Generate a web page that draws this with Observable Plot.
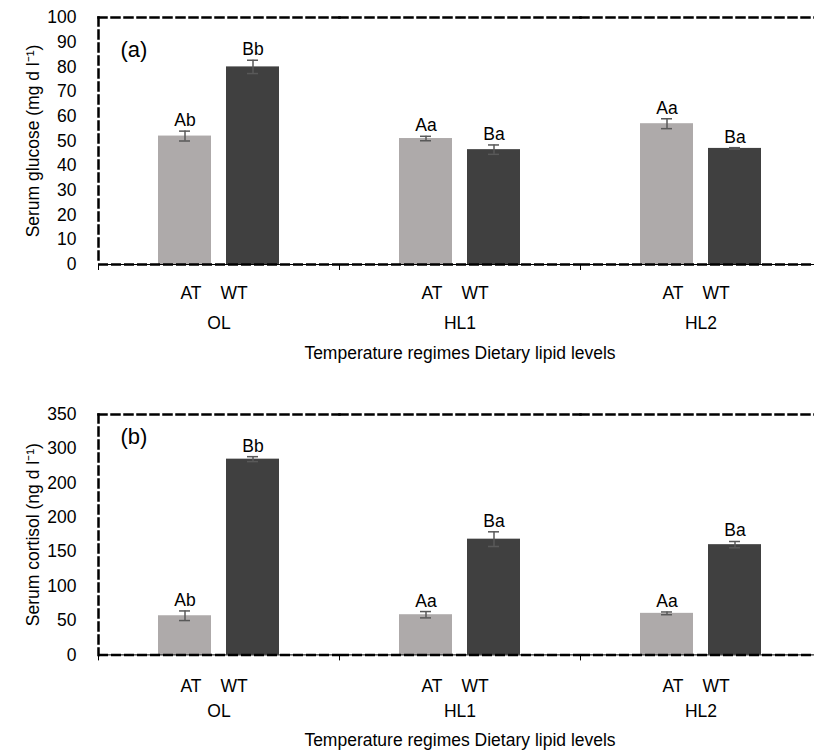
<!DOCTYPE html>
<html><head><meta charset="utf-8">
<script src="https://cdn.jsdelivr.net/npm/d3@7"></script>
<script src="https://cdn.jsdelivr.net/npm/@observablehq/plot@0.6"></script>
<style>
body{margin:0;background:#fff}
#chart svg{display:block}
</style></head><body><div id="chart"></div>
<script>
const groups = ["OL", "HL1", "HL2"];
const temps = ["AT", "WT"];
const glucoseMean = [52, 80, 51, 46.5, 57, 47];
const glucoseErr = [2, 2.7, 0.9, 1.9, 2, 0.3];
const glucoseLetters = ["Ab", "Bb", "Aa", "Ba", "Aa", "Ba"];
const cortisolMean = [57, 285, 58.5, 168.5, 60.5, 160.5];
const cortisolErr = [7, 3.6, 4.6, 10.7, 2, 4.6];
const cortisolLetters = ["Ab", "Bb", "Aa", "Ba", "Aa", "Ba"];
const glucoseTicks = [0, 10, 20, 30, 40, 50, 60, 70, 80, 90, 100];
const glucoseTickLabels = ["0", "10", "20", "30", "40", "50", "60", "70", "80", "90", "100"];
const cortisolTicks = [0, 50, 100, 150, 200, 250, 300, 350];
const cortisolTickLabels = ["0", "50", "100", "150", "200", "200", "300", "350"];
const xTitle = "Temperature regimes Dietary lipid levels";

function makeRows(means, errs, letters) {
  return means.map((v, i) => ({
    group: groups[Math.floor(i / 2)],
    temp: temps[i % 2],
    value: v,
    err: errs[i],
    letter: letters[i]
  }));
}

const fontR = "'Liberation Sans',Arial,sans-serif";
const fxRange = [98, 821];
const halfBand = (fxRange[1] - fxRange[0]) / groups.length / 2;

function chart(o) {
  const rows = o.rows;
  const hi = d => d.value + d.err;
  const lo = d => d.value - d.err;
  return Plot.plot({
    width: 814, height: o.height,
    marginTop: 17, marginLeft: 98, marginRight: 0, marginBottom: o.marginBottom,
    style: {fontFamily: fontR, fontSize: "17.5px", color: "#000", background: "#fff", overflow: "hidden"},
    fx: {domain: groups, range: fxRange, padding: 0},
    x: {domain: temps, paddingInner: 0.217, paddingOuter: 0.855},
    y: {domain: [0, o.yMax]},
    color: {domain: temps, range: ["#aeaaaa", "#404040"]},
    marks: [
      Plot.barY(rows, {fx: "group", x: "temp", y: "value", fill: "temp"}),
      Plot.ruleX(rows, {fx: "group", x: "temp", y1: lo, y2: hi, stroke: "#595959", strokeWidth: 1.5}),
      Plot.tickY(rows, {fx: "group", x: "temp", y: lo, insetLeft: 21, insetRight: 21, stroke: "#595959", strokeWidth: 1.5}),
      Plot.tickY(rows, {fx: "group", x: "temp", y: hi, insetLeft: 21, insetRight: 21, stroke: "#595959", strokeWidth: 1.5}),
      Plot.text(rows, {fx: "group", x: "temp", y: hi, text: "letter", lineAnchor: "bottom", dy: -5, fill: "#000"}),
      Plot.frame({anchor: "top", stroke: "#000", strokeWidth: 2.5, strokeDasharray: "8,5"}),
      Plot.ruleY([0], {stroke: "#000", strokeWidth: 1}),
      Plot.ruleY([0], {stroke: "#000", strokeWidth: 2.5, strokeDasharray: "10,3"}),
      Plot.frame({anchor: "left", facetAnchor: "left", stroke: "#000", strokeWidth: 2.5, strokeDasharray: "8,5"}),
      Plot.axisY({ticks: o.ticks, tickFormat: d => o.tickLabels[o.ticks.indexOf(d)], tickSize: 0, tickPadding: 22,
        label: o.yLabel, labelAnchor: "center", labelArrow: "none", labelOffset: 72}),
      Plot.axisX(["AT"], {tickSize: 0, tickPadding: o.xPad, dx: 6, label: null}),
      Plot.axisX(["WT"], {tickSize: 0, tickPadding: o.xPad, dx: -19, label: null}),
      Plot.axisFx({anchor: "bottom", tickSize: 0, tickPadding: o.fxPad, label: xTitle, labelAnchor: "center", labelArrow: "none", labelOffset: o.titleOffset}),
      Plot.axisFx({anchor: "bottom", tickSize: 6, tickPadding: 0, text: null, dx: -halfBand, label: null, stroke: "#000"}),
      Plot.text([{group: groups[0], label: o.panel}], {fx: "group", text: "label", frameAnchor: "top-left",
        dx: 22, dy: o.panelDy, lineAnchor: "top", fontFamily: fontR, fontSize: 22, fill: "#000"})
    ]
  });
}

const root = document.getElementById("chart");
root.append(chart({
  rows: makeRows(glucoseMean, glucoseErr, glucoseLetters),
  yMax: 100, ticks: glucoseTicks, tickLabels: glucoseTickLabels,
  yLabel: "Serum glucose (mg d l⁻¹)", panel: "(a)",
  height: 397, marginBottom: 133, panelDy: 24, xPad: 22, fxPad: 52, titleOffset: 94
}));
root.append(chart({
  rows: makeRows(cortisolMean, cortisolErr, cortisolLetters),
  yMax: 350, ticks: cortisolTicks, tickLabels: cortisolTickLabels,
  yLabel: "Serum cortisol (ng d l⁻¹)", panel: "(b)",
  height: 354, marginBottom: 96.6, panelDy: 14, xPad: 25, fxPad: 50, titleOffset: 91
}));
</script></body></html>
